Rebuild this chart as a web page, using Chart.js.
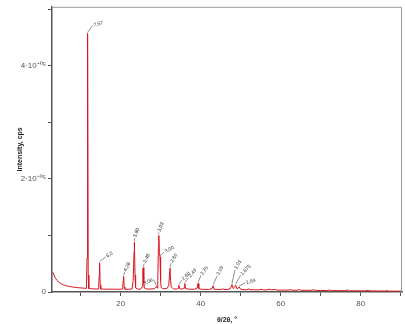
<!DOCTYPE html>
<html><head><meta charset="utf-8">
<script src="https://cdn.jsdelivr.net/npm/chart.js@4/dist/chart.umd.min.js"></script>
<style>html,body{margin:0;padding:0;background:#fff}#wrap{width:405px;height:324px;position:relative}</style>
</head><body><div id="wrap"><canvas id="c"></canvas></div>
<script>
// ---- data ----
const twoTheta = [3.0,3.3,3.6,4.0,4.5,5.0,5.5,6.0,6.5,7.0,7.5,8.0,8.5,9.0,9.5,10.0,10.5,11.0,11.4,11.55,11.7,11.85,12.0,12.5,13.0,13.5,14.0,14.45,14.6,14.7,14.85,15.0,16.0,17.0,18.0,19.0,20.0,20.45,20.6,20.7,20.85,21.0,22.0,22.8,23.1,23.3,23.4,23.55,23.7,24.0,24.5,25.0,25.3,25.5,25.6,25.75,25.9,26.5,27.5,28.3,28.7,28.9,29.1,29.25,29.4,29.5,29.65,29.8,29.95,30.1,30.5,31.0,31.6,32.0,32.2,32.3,32.45,32.6,32.9,33.2,34.0,34.3,34.5,34.7,35.3,35.8,36.0,36.2,37.0,37.8,38.5,39.1,39.3,39.5,40.2,41.0,42.0,42.8,43.1,43.3,44.0,45.0,45.5,45.8,46.8,47.4,47.8,48.1,48.4,48.7,49.0,49.3,49.6,49.9,50.5,51.5,52.0,52.3,53.5,54.5,55.3,55.6,56.5,57.3,57.6,58.6,58.9,60.0,61.0,61.8,62.5,62.8,64.0,64.7,65.0,66.5,67.5,68.3,68.6,70.0,71.5,72.3,72.6,74.0,76.0,76.9,77.2,79.0,81.0,82.0,82.3,84.0,86.0,86.6,86.9,88.0,90.0];
const intensity = [35000,30000,25000,21000,17500,15000,13000,11800,10800,10000,9300,8800,8300,7900,7500,7200,6900,6600,6400,60000,457000,30000,6000,5800,5600,5400,5300,5400,30000,51500,12000,5200,5000,4900,5000,4800,4900,5500,20000,28000,9000,5000,4800,5200,20000,70000,88000,30000,8000,5500,5000,5200,9000,35000,43000,15000,7000,5200,5400,5600,8000,10000,7000,20000,80000,100000,70000,62000,20000,8000,6000,5800,6500,12000,35000,42000,20000,9000,7000,5500,5000,7000,12000,6000,5000,7000,15000,6000,5000,4800,5000,7000,15000,6000,4800,4600,4500,6000,11000,5000,4600,4400,5500,4500,4600,6000,13000,6000,8000,12000,6000,6500,9000,5000,4200,4000,5500,4000,3900,3700,5000,3600,3700,5200,3600,4800,3500,3300,3400,3200,4200,3200,3100,4300,3000,3000,2900,4000,2800,2700,2600,3500,2500,2400,2300,3500,2200,2100,2000,2800,1900,1800,1700,2500,1600,1500,1500];
const xTicks = [10,20,30,40,50,60,70,80,90];
const xTickLabels = {20:'20',40:'40',60:'60',80:'80'};
const yTicks = [0,100000,200000,300000,400000,500000];
const yTickLabels = {0:'0',200000:'2·10⁺⁰⁵',400000:'4·10⁺⁰⁵'};
const labelTheta = [11.7,14.7,20.7,23.4,25.6,28.9,29.5,29.8,32.3,34.5,36.0,39.3,43.1,47.8,48.7,49.6];
const labelInt = [457000,51500,28000,88000,43000,10000,100000,62000,42000,12000,15000,15000,11000,13000,12000,9000];
const labelText = ['7,57','6,0','4,28','3,80','3,48','3,06','3,03','3,00','2,80','2,60','2,49','2,29','2,09','1,91','1,875','1,84'];

// ---- label styles (pixel leader offsets and text angles) ----
const labelStyle = [
  [5,-7,-15,'left'],[6,-5,-30,'left'],[1,-3,-65,'left'],[0,-3,-70,'left'],[1,-3,-65,'left'],
  [-3,-6,-25,'right'],[0,-2,-70,'left'],[4,-4,-25,'left'],[1,-4,-60,'left'],[3,-4,-45,'left'],
  [4,-5,-50,'left'],[3,-7,-55,'left'],[4,-9,-60,'left'],[3,-14,-60,'left'],[5,-9,-45,'left'],[6,-3,-15,'left']
];

const points = twoTheta.map((t,i)=>({x:t,y:intensity[i]}));

const framePlugin = {
  id:'frame',
  afterDatasetsDraw(chart){
    const {ctx, chartArea:a, scales:{x,y}} = chart;
    ctx.save();
    ctx.strokeStyle='#9a9a9a'; ctx.lineWidth=1;
    ctx.beginPath();
    ctx.moveTo(a.left, a.top+0.5); ctx.lineTo(a.right-0.5, a.top+0.5); ctx.lineTo(a.right-0.5, a.bottom);
    ctx.stroke();
    ctx.font='5px Arial'; ctx.fillStyle='#333'; ctx.strokeStyle='#444'; ctx.lineWidth=0.6;
    labelText.forEach((txt,i)=>{
      const px = x.getPixelForValue(labelTheta[i]);
      const py = y.getPixelForValue(labelInt[i]);
      const [dx,dy,ang,al] = labelStyle[i];
      ctx.beginPath(); ctx.moveTo(px,py-1); ctx.lineTo(px+dx,py-1+dy); ctx.stroke();
      ctx.save();
      ctx.translate(px+dx, py-1+dy);
      ctx.rotate(ang*Math.PI/180);
      ctx.textAlign = al; ctx.textBaseline='middle';
      ctx.fillText(txt, al==='left'?1:-1, 0);
      ctx.restore();
    });
    ctx.restore();
  }
};

new Chart(document.getElementById('c'), {
  type:'line',
  data:{datasets:[{data:points, borderColor:'#d8141e', borderWidth:1, pointRadius:0, tension:0, fill:false}]},
  options:{
    responsive:true, maintainAspectRatio:false, animation:false,
    layout:{padding:{top:1,right:3,left:0,bottom:0}},
    plugins:{legend:{display:false}, tooltip:{enabled:false}},
    scales:{
      x:{type:'linear', min:2.8, max:90.3,
        afterBuildTicks(s){ s.ticks = xTicks.map(v=>({value:v})); },
        afterFit(s){ s.height = 32; },
        grid:{drawOnChartArea:false, drawTicks:true, tickLength:4, color:'#555', tickWidth:1},
        border:{color:'#555', width:1.5},
        ticks:{autoSkip:false, maxRotation:0, padding:3, color:'#555', font:{family:'Arial', size:8},
          callback:(v)=> xTickLabels[v] || ''},
        title:{display:true, text:'θ/2θ, °', color:'#222', font:{family:'Arial', size:7, weight:'bold'}, padding:{top:4,bottom:0}}
      },
      y:{type:'linear', min:0, max:504000,
        afterBuildTicks(s){ s.ticks = yTicks.map(v=>({value:v})); },
        afterFit(s){ s.width = 52; },
        grid:{drawOnChartArea:false, drawTicks:true, tickLength:4, color:'#555', tickWidth:1},
        border:{color:'#555', width:1.5},
        ticks:{autoSkip:false, padding:2, color:'#555', font:{family:'Arial', size:8},
          callback:(v)=> yTickLabels[v] || ''},
        title:{display:true, text:'Intensity, cps', color:'#222', font:{family:'Arial', size:7, weight:'bold'}, padding:{top:16,bottom:0}}
      }
    }
  },
  plugins:[framePlugin]
});
</script></body></html>
